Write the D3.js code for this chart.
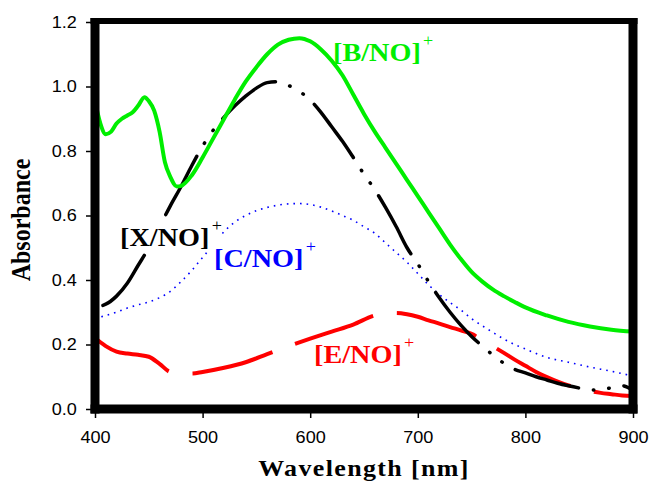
<!DOCTYPE html>
<html>
<head>
<meta charset="utf-8">
<script src="https://cdn.jsdelivr.net/npm/d3@7/dist/d3.min.js"></script>
<style>
  body { margin: 0; background: #fff; }
</style>
</head>
<body>
<svg id="chart" width="651" height="487"></svg>
<script>
// ---- data ----
var bWave = [400,405,410,415,420,425,430,435,440,446,450,455,460,465,470,476,480,490,500,510,520,530,540,550,560,570,580,590,600,610,620,630,640,650,660,670,680,690,700,710,720,730,740,750,760,770,780,790,800,820,840,860,880,900];
var bAbs  = [0.955,0.885,0.852,0.86,0.885,0.9,0.91,0.92,0.94,0.967,0.955,0.925,0.86,0.765,0.72,0.69,0.692,0.725,0.78,0.84,0.90,0.96,1.015,1.06,1.10,1.13,1.145,1.15,1.14,1.115,1.08,1.035,0.975,0.915,0.86,0.81,0.76,0.71,0.66,0.61,0.56,0.51,0.465,0.425,0.395,0.37,0.35,0.332,0.315,0.29,0.27,0.256,0.246,0.24];

var xWave = [400,405,410,420,430,440,450,460,470,480,490,500,510,520,530,540,550,560,570,580,590,600,610,620,630,640,650,660,670,680,690,700,710,720,730,740,750,760,770,780,790,800,810,820,830,840,850,860,870,880,890,900];
var xAbs  = [0.32,0.32,0.325,0.35,0.39,0.445,0.50,0.565,0.63,0.69,0.755,0.815,0.865,0.905,0.94,0.97,0.995,1.012,1.015,1.003,0.985,0.958,0.92,0.875,0.83,0.78,0.728,0.68,0.625,0.565,0.50,0.45,0.395,0.345,0.30,0.26,0.225,0.195,0.167,0.142,0.123,0.112,0.10,0.09,0.08,0.072,0.065,0.059,0.06,0.066,0.072,0.058];

var cWave = [400,410,420,430,440,450,460,470,480,490,500,510,520,530,540,550,560,570,580,590,600,610,620,630,640,650,660,670,680,690,700,710,720,730,740,750,760,770,780,790,800,820,840,860,880,900];
var cAbs  = [0.28,0.29,0.30,0.313,0.323,0.332,0.345,0.365,0.395,0.43,0.47,0.51,0.55,0.58,0.60,0.615,0.625,0.632,0.636,0.637,0.634,0.626,0.614,0.60,0.585,0.565,0.545,0.515,0.485,0.455,0.42,0.385,0.355,0.33,0.307,0.28,0.258,0.237,0.217,0.20,0.186,0.16,0.145,0.13,0.117,0.102];

var eWave = [400,410,420,430,440,450,460,470,480,490,500,520,540,560,580,600,620,640,660,670,680,690,700,710,720,730,740,750,760,770,780,790,800,810,820,830,840,850,860,870,880,890,900];
var eAbs  = [0.22,0.195,0.178,0.172,0.168,0.162,0.14,0.115,0.112,0.11,0.115,0.128,0.145,0.17,0.195,0.218,0.24,0.262,0.29,0.296,0.298,0.294,0.286,0.275,0.265,0.254,0.244,0.233,0.213,0.194,0.174,0.153,0.134,0.115,0.099,0.085,0.073,0.064,0.056,0.05,0.046,0.042,0.04];

var xTicks = [400,500,600,700,800,900];
var yTicks = [0,0.2,0.4,0.6,0.8,1.0,1.2];

var svg = d3.select('#chart');
var stretch = 'scale(1.13,1)';

var x = d3.scaleLinear().domain([400,900]).range([95,633]);
var y = d3.scaleLinear().domain([0,1.2]).range([409,22]);

// axes (ticks + labels), frame drawn separately
var yAxis = svg.append('g')
    .attr('transform','translate(95,0)')
    .call(d3.axisLeft(y).tickValues(yTicks).tickFormat(d3.format('.1f')).tickSize(9).tickPadding(7));
var xAxis = svg.append('g')
    .attr('transform','translate(0,409)')
    .call(d3.axisBottom(x).tickValues(xTicks).tickSize(9).tickPadding(14));

[yAxis, xAxis].forEach(function(g){
    g.select('.domain').remove();
    g.selectAll('line').attr('stroke','#000').attr('stroke-width',1.5);
    g.selectAll('text')
        .attr('fill','#000')
        .style('font-family','Arial, "Liberation Sans", sans-serif')
        .style('font-size','16px')
        .attr('transform',stretch);
});

// series
var line = d3.line()
    .x(function(d){ return x(d[0]); })
    .y(function(d){ return y(d[1]); })
    .curve(d3.curveMonotoneX);

function pairs(w, a){ return w.map(function(d,i){ return [d, a[i]]; }); }

svg.append('path').datum(pairs(cWave,cAbs))
    .attr('d',line)
    .style('fill','none')
    .style('stroke','#0000ff').style('stroke-width','1.6px')
    .style('stroke-dasharray','1.6,5');

svg.append('path').datum(pairs(eWave,eAbs))
    .attr('d',line)
    .style('fill','none')
    .style('stroke','#ff0000').style('stroke-width','4px')
    .style('stroke-dasharray','83,24');

svg.append('path').datum(pairs(xWave,xAbs))
    .attr('d',line)
    .style('fill','none')
    .style('stroke','#000').style('stroke-width','3.5px')
    .style('stroke-linecap','round')
    .style('stroke-dasharray','66,15,0.5,15,0.5,15')
    .style('stroke-dashoffset','-8');

svg.append('path').datum(pairs(bWave,bAbs))
    .attr('d',line)
    .style('fill','none')
    .style('stroke','#00ee00').style('stroke-width','4px');

// frame: thick plot border, a bit thinner on top
var frame = [
    {x1:95, y1:18, x2:95, y2:413.5, w:9},
    {x1:90.5, y1:409, x2:637.5, y2:409, w:9},
    {x1:633, y1:18, x2:633, y2:413.5, w:9},
    {x1:90.5, y1:21, x2:637.5, y2:21, w:6}
];
svg.selectAll('line.frame').data(frame).enter().append('line')
    .attr('class','frame')
    .attr('x1',function(d){ return d.x1; })
    .attr('y1',function(d){ return d.y1; })
    .attr('x2',function(d){ return d.x2; })
    .attr('y2',function(d){ return d.y2; })
    .attr('stroke','#000')
    .attr('stroke-width',function(d){ return d.w; });

// series labels
function label(name, px, py, color, bg){
    var g = svg.append('g').attr('transform','translate('+px+','+py+') '+stretch);
    var t = g.append('text')
        .attr('fill',color)
        .style('font-family','"Times New Roman", "Liberation Serif", serif');
    t.append('tspan').text(name).style('font-weight','bold').style('font-size','25px');
    t.append('tspan').text('+').attr('dy',-15).attr('dx',2).style('font-size','16px');
    if (bg) {
        var bb = t.node().getBBox();
        g.insert('rect','text')
            .attr('x',bb.x).attr('y',bb.y+3)
            .attr('width',bb.width).attr('height',bb.height-3)
            .attr('fill','#fff');
    }
}
label('[B/NO]', 333, 61, '#00ee00', false);
label('[X/NO]', 120, 246, '#000', true);
label('[C/NO]', 214, 267, '#0000ff', false);
label('[E/NO]', 314, 363, '#ff0000', false);

// axis titles
svg.append('text')
    .attr('transform','translate(364,476) '+stretch)
    .attr('text-anchor','middle')
    .style('font-family','"Times New Roman", "Liberation Serif", serif')
    .style('font-weight','bold')
    .style('font-size','23px')
    .style('letter-spacing','1.2px')
    .text('Wavelength [nm]');

svg.append('text')
    .attr('transform','translate(30,220) '+stretch+' rotate(-90)')
    .attr('text-anchor','middle')
    .style('font-family','"Times New Roman", "Liberation Serif", serif')
    .style('font-weight','bold')
    .style('font-size','24px')
    .text('Absorbance');
</script>
</body>
</html>
